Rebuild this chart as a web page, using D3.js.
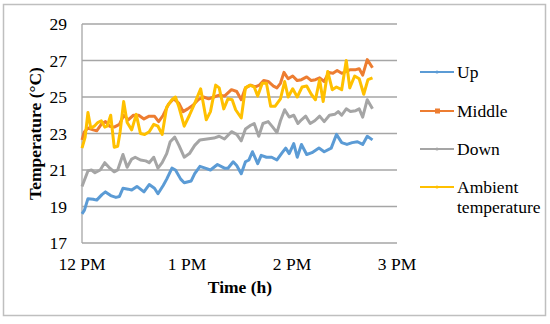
<!DOCTYPE html>
<html>
<head>
<meta charset="utf-8">
<script src="https://cdn.jsdelivr.net/npm/d3@7"></script>
<style>
  body { margin: 0; background: #fff; }
  svg text { font-family: "Liberation Serif", "Times New Roman", serif; fill: #000; }
</style>
</head>
<body>
<div id="chart"></div>
<script>
// readings as [minutes after 12 PM, temperature °C]
const upData = [[0,18.6],[1.4,18.8],[3.4,19.43],[6.4,19.4],[8.4,19.35],[11.4,19.65],[13.4,19.8],[16.4,19.6],[19.4,19.5],[21.4,19.55],[23.4,20.0],[26.4,19.95],[28.4,19.9],[31.4,20.1],[35.4,19.8],[38.4,20.2],[41.4,20.0],[43.4,19.7],[46.4,20.15],[48.4,20.5],[51.4,21.1],[53.4,21.0],[56.4,20.5],[58.4,20.3],[62.4,20.4],[64.4,20.8],[67.4,21.2],[70.4,21.1],[73.4,21.0],[77.4,21.3],[81.4,21.1],[83.4,21.1],[86.4,21.45],[88.4,21.25],[91,20.8],[93.4,21.45],[95.4,21.55],[97.4,22.0],[100.4,21.35],[102.4,21.8],[105.4,21.7],[108.4,21.7],[111.4,21.55],[114.4,21.95],[116.4,22.2],[118.4,21.9],[121,22.45],[123,21.7],[125.4,22.4],[128.4,21.85],[131.4,21.95],[135.4,22.2],[138.4,22.0],[142.4,22.2],[145.4,22.95],[148.4,22.5],[151.4,22.4],[154.4,22.5],[157.4,22.55],[160.4,22.4],[163,22.85],[166,22.65]];
const middleData = [[0,22.65],[1.4,23.1],[3.4,23.3],[6.4,23.2],[8.4,23.15],[11.4,23.55],[13.4,23.65],[15.8,23.4],[18.4,23.35],[21.4,23.5],[23.8,24.0],[26.4,23.75],[29.4,24.0],[32.4,24.0],[35.4,23.8],[38.4,23.95],[41.4,23.95],[43.8,23.65],[46.4,24.0],[49.4,24.6],[52.4,24.9],[55.4,24.65],[57.8,24.2],[60.4,24.35],[63.4,24.55],[66.4,24.85],[69.4,25.0],[72.4,24.9],[75.4,25.0],[78.4,25.1],[81.4,25.05],[85.4,25.4],[88.4,25.3],[91,24.85],[93.4,25.5],[96.4,25.65],[99,25.55],[101.4,25.65],[103.8,25.9],[106.4,25.85],[109.4,25.6],[111.4,25.5],[113.4,25.75],[115.4,26.35],[117.8,26.0],[120.4,26.15],[123,25.9],[125.4,25.95],[128.4,26.1],[131,25.9],[133.4,25.95],[135.8,26.05],[138.4,25.85],[141,26.35],[143.4,26.3],[145.8,26.45],[148.4,26.3],[151,26.4],[153.4,26.5],[156.4,26.5],[158.4,26.55],[160.4,26.2],[163,27.05],[166,26.6]];
const downData = [[0,20.1],[1.4,20.45],[3.4,20.95],[5.4,21.0],[7.4,20.85],[10.4,21.0],[13,21.4],[15.4,21.15],[18.4,20.9],[20.4,21.0],[23.4,21.85],[25.8,21.15],[28.4,21.6],[30.4,21.7],[33.4,21.55],[36.4,21.5],[38.4,21.4],[41,21.7],[43.4,21.1],[45.8,21.4],[48.4,21.9],[50.4,22.55],[53,22.8],[55.4,22.35],[58.4,21.7],[61.4,21.9],[64.4,22.35],[67.4,22.65],[71.4,22.7],[75.4,22.75],[78.4,22.85],[81.4,22.7],[85.4,23.1],[88.4,22.95],[91,22.6],[93.4,23.25],[96.4,23.45],[98.4,23.55],[101,22.85],[103.4,23.55],[106.4,23.65],[109,23.35],[111.4,23.05],[113.4,23.7],[115.8,24.3],[118.4,23.9],[121,24.0],[123.4,23.55],[125.4,23.75],[127.8,23.95],[130.4,23.55],[133,23.7],[135.8,23.95],[138.4,23.65],[141.4,24.0],[144.4,24.05],[146.4,24.2],[148.4,24.0],[151,24.35],[153.4,24.2],[156.4,24.25],[158.4,24.35],[160.4,23.9],[163,24.85],[166,24.35]];
const ambientData = [[0,22.2],[1.8,22.8],[3.4,24.15],[5,23.3],[7,23.4],[9,23.6],[11,23.7],[13,23.35],[14.4,23.4],[16.4,24.0],[18.4,22.25],[20.4,22.3],[21.8,23.1],[23.8,24.75],[25.8,23.6],[28.4,23.2],[31,24.05],[33.4,23.0],[35.8,22.95],[38.4,23.1],[41,23.5],[43.4,23.4],[45.8,22.95],[48.4,24.45],[51.4,24.85],[53.4,25.0],[55.4,24.45],[58.4,23.4],[61.4,24.0],[64.4,24.65],[67.8,25.45],[71,23.75],[73.4,24.2],[76.4,25.65],[78.4,25.5],[81,24.35],[83.4,24.9],[85.8,24.85],[87.8,24.3],[91,23.85],[93.4,25.5],[95.8,25.65],[98.4,25.55],[100.4,25.05],[103,25.75],[105.4,25.75],[107.8,24.5],[110.4,24.5],[113.4,24.9],[115.8,25.85],[117.8,25.0],[120.4,25.45],[123,25.0],[125.8,25.55],[128.4,25.6],[131,25.15],[133.4,24.85],[135.8,25.95],[137.8,24.75],[140.4,26.4],[143,25.4],[145.4,25.55],[148.4,25.4],[151,27.0],[153,25.5],[155.8,26.15],[158.4,26.0],[161,25.15],[163.4,25.95],[166,26.05]];

const seriesNames = ["Up", "Middle", "Down", "Ambient temperature"];
const seriesColors = ["#5B9BD5", "#ED7D31", "#A5A5A5", "#FFC000"];
const yTicks = [17, 19, 21, 23, 25, 27, 29];
const xTicks = [0, 60, 120, 180];
const xTickLabels = ["12 PM", "1 PM", "2 PM", "3 PM"];

const width = 550, height = 324;
const margin = { left: 82, right: 153, top: 24, bottom: 81 };
const fontSize = 17.5;

const svg = d3.select("#chart").append("svg")
  .attr("width", width)
  .attr("height", height);

// outer frame
svg.append("rect")
  .attr("x", 3.5).attr("y", 4.5)
  .attr("width", 542).attr("height", 311)
  .attr("fill", "#fff")
  .attr("stroke", "#bfbfbf")
  .attr("stroke-width", 1.5);

const x = d3.scaleLinear().domain([0, 180]).range([margin.left, width - margin.right]);
const y = d3.scaleLinear().domain([17, 29]).range([height - margin.bottom, margin.top]);

// gridlines
svg.append("g")
  .selectAll("line")
  .data(yTicks)
  .join("line")
  .attr("x1", x(0)).attr("x2", x(180))
  .attr("y1", d => y(d)).attr("y2", d => y(d))
  .attr("stroke", "#a6a6a6")
  .attr("stroke-width", 1.3);

// left axis line
svg.append("line")
  .attr("x1", x(0)).attr("x2", x(0))
  .attr("y1", y(17)).attr("y2", y(29))
  .attr("stroke", "#a6a6a6")
  .attr("stroke-width", 1.3);

// y tick labels
svg.append("g")
  .selectAll("text")
  .data(yTicks)
  .join("text")
  .attr("x", 67)
  .attr("y", d => y(d) + 6)
  .attr("text-anchor", "end")
  .attr("font-size", fontSize)
  .text(d => d);

// x tick labels
svg.append("g")
  .selectAll("text")
  .data(xTicks)
  .join("text")
  .attr("x", d => x(d))
  .attr("y", 269.5)
  .attr("text-anchor", "middle")
  .attr("font-size", fontSize)
  .text((d, i) => xTickLabels[i]);

// axis titles
svg.append("text")
  .attr("x", 240).attr("y", 293)
  .attr("text-anchor", "middle")
  .attr("font-size", fontSize)
  .attr("font-weight", "bold")
  .text("Time (h)");

svg.append("text")
  .attr("transform", `translate(41,${y(23)}) rotate(-90)`)
  .attr("text-anchor", "middle")
  .attr("font-size", fontSize)
  .attr("font-weight", "bold")
  .text("Temperature (°C)");

// lines
const line = d3.line()
  .x(d => x(d[0]))
  .y(d => y(d[1]));

const allData = [upData, middleData, downData, ambientData];
const drawOrder = [0, 2, 1, 3];
drawOrder.forEach(i => {
  svg.append("path")
    .datum(allData[i])
    .attr("d", line)
    .attr("fill", "none")
    .attr("stroke", seriesColors[i])
    .attr("stroke-width", 3)
    .attr("stroke-linejoin", "round");
});

// legend
const legendY = [72, 111, 149, 187];
const legend = svg.append("g");
seriesNames.forEach((name, i) => {
  const g = legend.append("g").attr("transform", `translate(420,${legendY[i]})`);
  g.append("line")
    .attr("x1", 0).attr("x2", 34)
    .attr("stroke", seriesColors[i])
    .attr("stroke-width", 2.2);
  if (i === 1) {
    g.append("rect").attr("x", 15).attr("y", -2.5).attr("width", 5).attr("height", 5)
      .attr("fill", seriesColors[i]);
  } else {
    g.append("circle").attr("cx", 17).attr("cy", 0).attr("r", 1.6)
      .attr("fill", seriesColors[i]);
  }
  const words = name === "Ambient temperature" ? ["Ambient", "temperature"] : [name];
  words.forEach((w, k) => {
    g.append("text")
      .attr("x", 37)
      .attr("y", 6 + k * 19.5)
      .attr("font-size", fontSize)
      .text(w);
  });
});
</script>
</body>
</html>
